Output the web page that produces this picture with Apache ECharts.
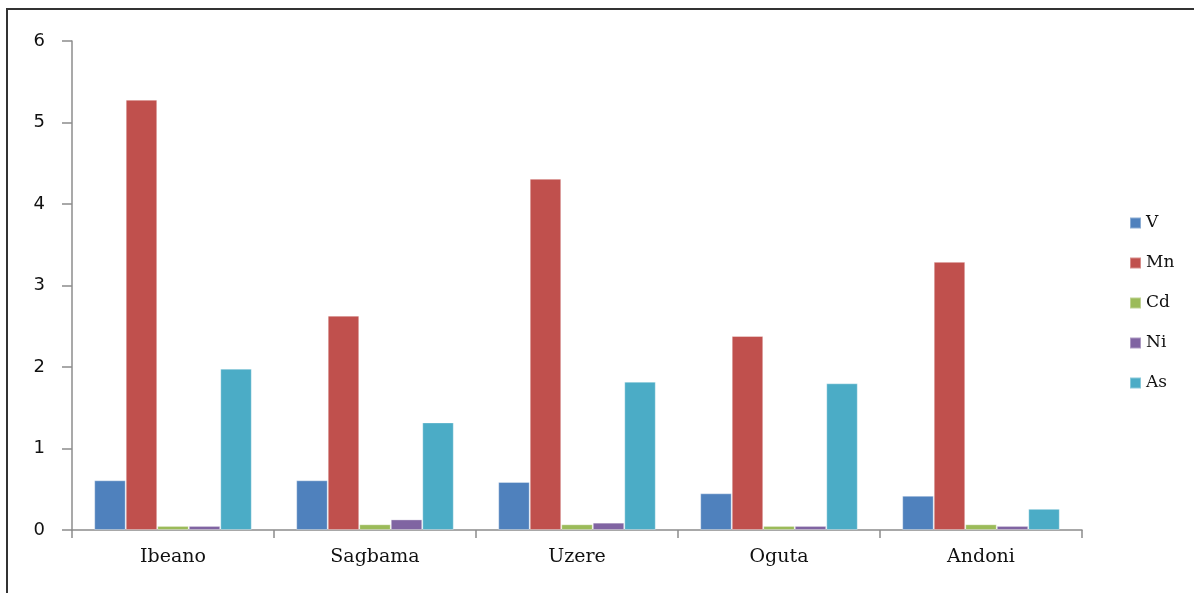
<!DOCTYPE html>
<html>
<head>
<meta charset="utf-8">
<script src="https://cdn.jsdelivr.net/npm/echarts@6/dist/echarts.min.js"></script>
<style>
  html, body { margin: 0; padding: 0; background: #fff; }
  #chart { width: 1194px; height: 593px; }
</style>
</head>
<body>
<div id="chart"></div>
<script>
// Sampling sites and measured element concentrations
const sites = ['Ibeano', 'Sagbama', 'Uzere', 'Oguta', 'Andoni'];
const V  = [0.61, 0.61, 0.59, 0.45, 0.42];
const Mn = [5.28, 2.63, 4.31, 2.38, 3.29];
const Cd = [0.05, 0.07, 0.07, 0.05, 0.07];
const Ni = [0.05, 0.13, 0.09, 0.05, 0.05];
const As = [1.98, 1.32, 1.82, 1.80, 0.26];
const yTicks = [0, 1, 2, 3, 4, 5, 6];

const seriesDefs = [
  { name: 'V',  data: V,  color: '#4F81BD' },
  { name: 'Mn', data: Mn, color: '#C0504D' },
  { name: 'Cd', data: Cd, color: '#9BBB59' },
  { name: 'Ni', data: Ni, color: '#8064A2' },
  { name: 'As', data: As, color: '#4BACC6' }
];

const serif = '"DejaVu Serif", serif';
const chart = echarts.init(document.getElementById('chart'));

chart.setOption({
  animation: false,
  backgroundColor: '#fff',
  graphic: [{
    type: 'rect',
    shape: { x: 7, y: 9, width: 1300, height: 700 },
    style: { fill: 'none', stroke: '#333', lineWidth: 2 },
    silent: true
  }],
  grid: { left: 72, right: 112, top: 41, bottom: 63, containLabel: false },
  legend: {
    orient: 'vertical',
    left: 1124,
    top: 208,
    itemWidth: 11,
    itemHeight: 11,
    itemGap: 20,
    icon: 'rect',
    textStyle: { fontFamily: serif, fontSize: 17, lineHeight: 20, color: '#111' },
    data: seriesDefs.map(s => s.name)
  },
  xAxis: {
    type: 'category',
    data: sites,
    axisLine: { lineStyle: { color: '#8c8c8c', width: 1.5 } },
    axisTick: { show: true, length: 8, lineStyle: { color: '#8c8c8c', width: 1.5 } },
    axisLabel: { fontFamily: serif, fontSize: 19, color: '#111', margin: 18 }
  },
  yAxis: {
    type: 'value',
    min: yTicks[0],
    max: yTicks[yTicks.length - 1],
    interval: 1,
    axisLine: { show: true, lineStyle: { color: '#8c8c8c', width: 1.5 } },
    axisTick: { show: true, length: 10, lineStyle: { color: '#8c8c8c', width: 1.5 } },
    splitLine: { show: false },
    axisLabel: { fontFamily: '"DejaVu Sans", sans-serif', fontSize: 18, color: '#111', margin: 27 }
  },
  series: seriesDefs.map(s => ({
    name: s.name,
    type: 'bar',
    data: s.data,
    barGap: '0%',
    barCategoryGap: '22%',
    itemStyle: { color: s.color, borderColor: 'rgba(255,255,255,0.35)', borderWidth: 1 }
  }))
});
</script>
</body>
</html>
